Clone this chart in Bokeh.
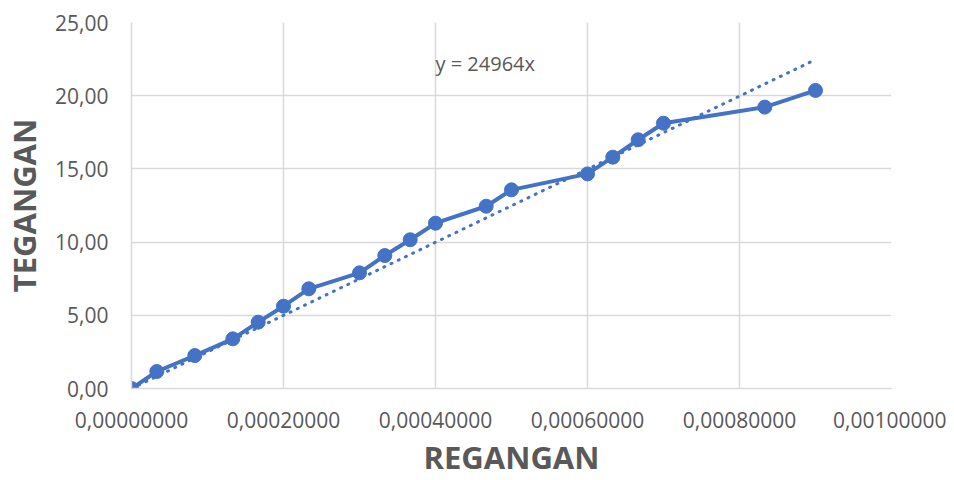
from bokeh.plotting import figure
from bokeh.models import ColumnDataSource, FixedTicker, CustomJSTickFormatter, Range1d, Label
from bokeh.embed import file_html
from bokeh.resources import INLINE

# Data
regangan = [0.0, 0.0000333, 0.0000833, 0.0001333, 0.0001667, 0.0002, 0.0002333,
            0.0003, 0.0003333, 0.0003667, 0.0004, 0.0004667, 0.0005, 0.0006,
            0.0006333, 0.0006667, 0.0007, 0.0008333, 0.0009]
tegangan = [0.0, 1.16, 2.25, 3.39, 4.53, 5.62, 6.81, 7.90, 9.08, 10.16, 11.29,
            12.45, 13.57, 14.66, 15.80, 16.99, 18.12, 19.22, 20.36]
slope = 24964
trend_x = [0.0, 0.0009]
trend_y = [slope * v for v in trend_x]
x_ticks = [0.0, 0.0002, 0.0004, 0.0006, 0.0008, 0.001]
y_ticks = [0, 5, 10, 15, 20, 25]
equation = "y = 24964x"

FONT = "Open Sans"
GREY = "#595959"
BLUE = "#4472C4"

p = figure(frame_width=760, frame_height=366, output_backend="svg", toolbar_location=None,
           x_range=Range1d(0, 0.001), y_range=Range1d(0, 25),
           min_border_left=124, min_border_right=55, min_border_top=22, min_border_bottom=80)
p.outline_line_color = None
p.background_fill_color = "white"
p.border_fill_color = "white"

for ax in (p.xaxis[0], p.yaxis[0]):
    ax.major_tick_line_color = None
    ax.minor_tick_line_color = None
    ax.axis_line_color = "#d9d9d9"
    ax.axis_line_width = 1.5
    ax.major_label_text_font = FONT
    ax.major_label_text_font_size = "21px"
    ax.major_label_text_color = GREY
    ax.axis_label_text_font = FONT
    ax.axis_label_text_font_style = "bold"
    ax.axis_label_text_font_size = "31px"
    ax.axis_label_text_color = GREY

p.xaxis.ticker = FixedTicker(ticks=x_ticks)
p.yaxis.ticker = FixedTicker(ticks=y_ticks)
p.xaxis.formatter = CustomJSTickFormatter(code="return tick.toFixed(8).replace('.', ',');")
p.yaxis.formatter = CustomJSTickFormatter(code="return tick.toFixed(2).replace('.', ',');")
p.xaxis.axis_label = "REGANGAN"
p.yaxis.axis_label = "TEGANGAN"
p.xaxis.major_label_standoff = 17
p.yaxis.major_label_standoff = 17
p.xaxis.axis_label_standoff = 5
p.yaxis.axis_label_standoff = 7

p.xgrid.ticker = FixedTicker(ticks=x_ticks)
p.ygrid.ticker = FixedTicker(ticks=y_ticks)
p.xgrid.grid_line_color = "#d9d9d9"
p.ygrid.grid_line_color = "#d9d9d9"
p.xgrid.grid_line_width = 1.5
p.ygrid.grid_line_width = 1.5

src = ColumnDataSource(dict(x=regangan, y=tegangan))
p.line(trend_x, trend_y, line_color=BLUE, line_width=3, line_dash="1 7", line_cap="round")
p.line("x", "y", source=src, line_color=BLUE, line_width=4, line_join="round")
p.scatter("x", "y", source=src, size=14, fill_color=BLUE, line_color=BLUE)

p.add_layout(Label(x=0.0004, y=22.2, text=equation, text_font=FONT, text_font_size="20px",
                   text_color=GREY, text_baseline="middle", text_align="left"))

open("out.html", "w").write(file_html(p, INLINE))
